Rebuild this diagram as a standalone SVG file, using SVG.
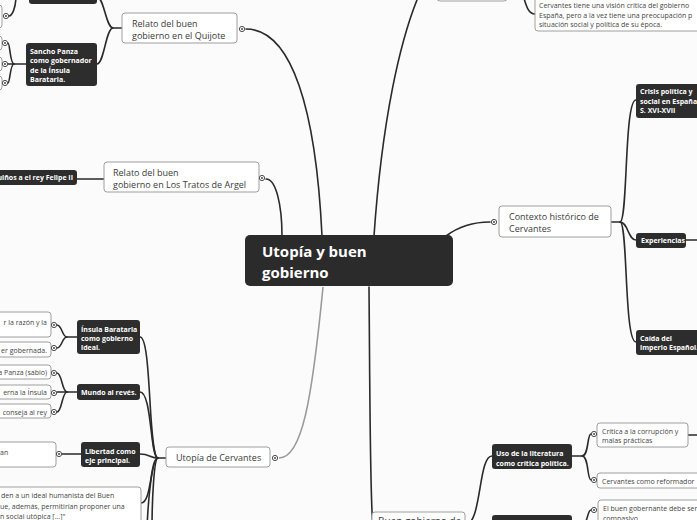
<svg xmlns="http://www.w3.org/2000/svg" width="697" height="520" viewBox="0 0 697 520">
<defs>
<style>
.bg{fill:#fbfbfb}
.lt{fill:#fff;stroke:#9e9e9e;stroke-width:1}
.dk{fill:#2d2d2d}
.c{fill:none;stroke:#2a2a2a;stroke-width:1.6;stroke-linecap:round}
.g{fill:none;stroke:#9a9a9a;stroke-width:1.6}
.t9{font-family:"Open Sans","Noto Sans",sans-serif;font-size:9px;fill:#3a3a3a}
.t7{font-family:"Open Sans","Noto Sans",sans-serif;font-size:7px;fill:#444}
.b7{font-family:"Open Sans","Noto Sans",sans-serif;font-size:7px;font-weight:bold;fill:#fff}
.rt{font-family:"Open Sans","Noto Sans",sans-serif;font-size:15px;font-weight:bold;fill:#fff}
</style>
<g id="dot"><circle r="2.6" fill="#fff" stroke="#4a4a4a" stroke-width="1"/><circle r="1" fill="#4a4a4a"/></g>
</defs>
<rect class="bg" x="0" y="0" width="697" height="520"/>

<g id="connectors">
<path class="c" d="M322,236 C316,110 292,29 246,29"/>
<path class="c" d="M282,236 C282,205 276,179 266,179"/>
<path class="c" d="M374,236 C382,120 400,40 419,-5"/>
<path class="g" d="M323,287 C312,400 302,458 279,458"/>
<path class="c" d="M369,287 C370,400 370,505 373,525"/>
<path class="c" d="M446,236 C462,224 478,222 490,222"/>
<path class="c" d="M523,-5 C526,5 528,14 535,14"/>
<path class="c" d="M16,-5 C16,8 12,16 9,16"/>
<!-- Quijote branch -->
<path class="c" d="M122,28 H113 C106,28 104,-3 97,-3"/>
<path class="c" d="M113,28 C106,28 104,64 97,64"/>
<!-- Sancho branch -->
<path class="c" d="M26,64 H14 C10,64 10,43 8,43"/>
<path class="c" d="M14,64 H8"/>
<path class="c" d="M14,64 C10,64 10,83 8,83"/>
<!-- Tratos -->
<path class="c" d="M104,179 H77"/>
<!-- Utopía branch -->
<path class="c" d="M166,458 H158 C148,458 152,337 140,337"/>
<path class="c" d="M158,458 C150,458 152,392 140,392"/>
<path class="c" d="M158,458 C150,458 150,454 140,454"/>
<path class="c" d="M158,458 C150,458 152,503 141,503"/>
<path class="c" d="M158,458 C152,458 148,500 147,530"/>
<path class="c" d="M158,458 C154,458 152,500 152,530"/>
<!-- Ínsula / Mundo / Libertad -->
<path class="c" d="M77,337 H67 C62,337 62,325 57,325"/>
<path class="c" d="M67,337 C62,337 62,348 57,348"/>
<path class="c" d="M77,392 H67 C62,392 62,373 57,373"/>
<path class="c" d="M67,392 H57"/>
<path class="c" d="M67,392 C62,392 62,412 57,412"/>
<path class="c" d="M81,454 H62"/>
<!-- Contexto branch -->
<path class="c" d="M611,222 H620 C628,222 624,100 636,100"/>
<path class="c" d="M620,222 C628,222 628,240 636,240"/>
<path class="c" d="M620,222 C628,222 624,342 636,342"/>
<path class="c" d="M686,240 H700"/>
<!-- Buen gobierno branch -->
<path class="c" d="M465,525 C482,525 478,456 492,456"/>
<path class="c" d="M465,525 C480,525 482,530 492,530"/>
<path class="c" d="M572,456 H582 C589,456 587,434 591,434"/>
<path class="c" d="M582,456 C589,456 587,480 591,480"/>
<path class="c" d="M572,525 H582 C588,525 587,510 591,510"/>
<path class="c" d="M688,435 H700"/>
</g>

<g id="root">
<rect x="245" y="235" width="208" height="51" rx="5" fill="#2b2b2b"/>
<text class="rt" x="262" y="257">Utopía y buen</text>
<text class="rt" x="262" y="278">gobierno</text>
</g>

<g id="quijote">
<rect class="lt" x="122" y="13" width="115" height="30" rx="3"/>
<text class="t9" x="132" y="27">Relato del buen</text>
<text class="t9" x="132" y="39">gobierno en el Quijote</text>
<use href="#dot" x="242" y="29"/>
</g>

<g id="top-left-dark">
<rect class="dk" x="29" y="-20" width="68" height="24" rx="3"/>
</g>
<g id="top-left-leaf">
<rect class="lt" x="-60" y="5" width="62" height="23" rx="3"/>
<use href="#dot" x="6" y="16"/>
</g>

<g id="sancho">
<rect class="dk" x="26" y="43" width="71" height="43" rx="3"/>
<text class="b7" x="30" y="53.5">Sancho Panza</text>
<text class="b7" x="30" y="63">como gobernador</text>
<text class="b7" x="30" y="72.5">de la Ínsula</text>
<text class="b7" x="30" y="82">Barataria.</text>
</g>
<g id="sancho-leaves">
<rect class="lt" x="-60" y="36" width="62" height="14" rx="3"/>
<rect class="lt" x="-60" y="57" width="62" height="14" rx="3"/>
<rect class="lt" x="-60" y="76" width="62" height="14" rx="3"/>
<use href="#dot" x="5" y="43"/>
<use href="#dot" x="5" y="64"/>
<use href="#dot" x="5" y="83"/>
</g>

<g id="tratos">
<rect class="lt" x="104" y="162" width="155" height="30" rx="3"/>
<text class="t9" x="113" y="175.5">Relato del buen</text>
<text class="t9" x="113" y="187.5">gobierno en Los Tratos de Argel</text>
<use href="#dot" x="262" y="178"/>
</g>
<g id="guinos">
<rect class="dk" x="-40" y="170" width="117" height="15" rx="3"/>
<text class="b7" x="73" y="180" text-anchor="end">uiños a el rey Felipe II</text>
</g>

<g id="top-box">
<rect class="lt" x="437" y="-20" width="70" height="21" rx="3"/>
</g>
<g id="vision">
<rect class="lt" x="535" y="-6" width="180" height="37" rx="3"/>
<text class="t7" x="539" y="8">Cervantes tiene una visión crítica del gobierno</text>
<text class="t7" x="539" y="17.5">España, pero a la vez tiene una preocupación p</text>
<text class="t7" x="539" y="27">situación social y política de su época.</text>
</g>

<g id="contexto">
<rect class="lt" x="499" y="206" width="112" height="31" rx="3"/>
<text class="t9" x="509" y="220">Contexto histórico de</text>
<text class="t9" x="509" y="232">Cervantes</text>
<use href="#dot" x="494" y="222"/>
</g>
<g id="crisis">
<rect class="dk" x="636" y="84" width="75" height="34" rx="3"/>
<text class="b7" x="640" y="94">Crisis política y</text>
<text class="b7" x="640" y="103.5">social en España</text>
<text class="b7" x="640" y="113">S. XVI-XVII</text>
</g>
<g id="experiencias">
<rect class="dk" x="636" y="233" width="50" height="15" rx="3"/>
<text class="b7" x="641" y="243">Experiencias</text>
</g>
<g id="caida">
<rect class="dk" x="636" y="330" width="70" height="25" rx="3"/>
<text class="b7" x="640" y="340.5">Caída del</text>
<text class="b7" x="640" y="350">imperio Español.</text>
</g>

<g id="utopia">
<rect class="lt" x="166" y="447" width="104" height="20" rx="3"/>
<text class="t9" x="176" y="461">Utopía de Cervantes</text>
<use href="#dot" x="275" y="458"/>
</g>
<g id="insula">
<rect class="dk" x="77" y="320" width="63" height="34" rx="3"/>
<text class="b7" x="81" y="332">Ínsula Barataria</text>
<text class="b7" x="81" y="341">como gobierno</text>
<text class="b7" x="81" y="350">ideal.</text>
</g>
<g id="insula-leaves">
<rect class="lt" x="-60" y="312" width="111" height="25" rx="3"/>
<text class="t7" x="47" y="325" text-anchor="end">r la razón y la</text>
<rect class="lt" x="-60" y="342" width="111" height="15" rx="3"/>
<text class="t7" x="47" y="352.5" text-anchor="end">er gobernada.</text>
<use href="#dot" x="54" y="325"/>
<use href="#dot" x="54" y="348"/>
</g>
<g id="mundo">
<rect class="dk" x="77" y="384" width="63" height="16" rx="3"/>
<text class="b7" x="81" y="394.5">Mundo al revés.</text>
</g>
<g id="mundo-leaves">
<rect class="lt" x="-60" y="365" width="111" height="14" rx="3"/>
<text class="t7" x="47" y="375" text-anchor="end">a Panza (sabio)</text>
<rect class="lt" x="-60" y="385" width="111" height="14" rx="3"/>
<text class="t7" x="47" y="395" text-anchor="end">erna la Ínsula</text>
<rect class="lt" x="-60" y="404" width="111" height="14" rx="3"/>
<text class="t7" x="47" y="414.5" text-anchor="end">conseja al rey</text>
<use href="#dot" x="54" y="373"/>
<use href="#dot" x="54" y="393"/>
<use href="#dot" x="54" y="412"/>
</g>
<g id="libertad">
<rect class="dk" x="81" y="442" width="59" height="25" rx="3"/>
<text class="b7" x="85" y="453.5">Libertad como</text>
<text class="b7" x="85" y="463">eje principal.</text>
</g>
<g id="libertad-leaf">
<rect class="lt" x="-60" y="442" width="116" height="25" rx="3"/>
<text class="t7" x="0" y="454.5">an</text>
<use href="#dot" x="59" y="454"/>
</g>
<g id="quote">
<rect class="lt" x="-60" y="487" width="201" height="45" rx="3"/>
<text class="t7" x="1" y="497.5">den a un ideal humanista del Buen</text>
<text class="t7" x="0" y="509">ue, además, permitirían proponer una</text>
<text class="t7" x="0" y="518.5">n social utópica [...]"</text>
</g>

<g id="buen-gobierno">
<rect class="lt" x="372" y="512" width="93" height="28" rx="3"/>
<text class="t9" x="378" y="525" style="font-size:10px">Buen gobierno de</text>
</g>
<g id="uso">
<rect class="dk" x="492" y="444" width="80" height="25" rx="3"/>
<text class="b7" x="496" y="456">Uso de la literatura</text>
<text class="b7" x="496" y="465.5">como crítica política.</text>
</g>
<g id="dark-bottom">
<rect class="dk" x="492" y="515" width="80" height="20" rx="3"/>
</g>
<g id="critica">
<rect class="lt" x="597" y="423" width="91" height="24" rx="3"/>
<text class="t7" x="602" y="433.5">Crítica a la corrupción y</text>
<text class="t7" x="602" y="442.5">malas prácticas</text>
<use href="#dot" x="594" y="434"/>
</g>
<g id="reformador">
<rect class="lt" x="597" y="473" width="110" height="15" rx="3"/>
<text class="t7" x="602" y="483.5">Cervantes como reformador</text>
<use href="#dot" x="594" y="480"/>
</g>
<g id="gobernante">
<rect class="lt" x="598" y="500" width="110" height="30" rx="3"/>
<text class="t7" x="603" y="511">El buen gobernante debe ser</text>
<text class="t7" x="603" y="520.5">compasivo</text>
<use href="#dot" x="594" y="510"/>
</g>
</svg>
